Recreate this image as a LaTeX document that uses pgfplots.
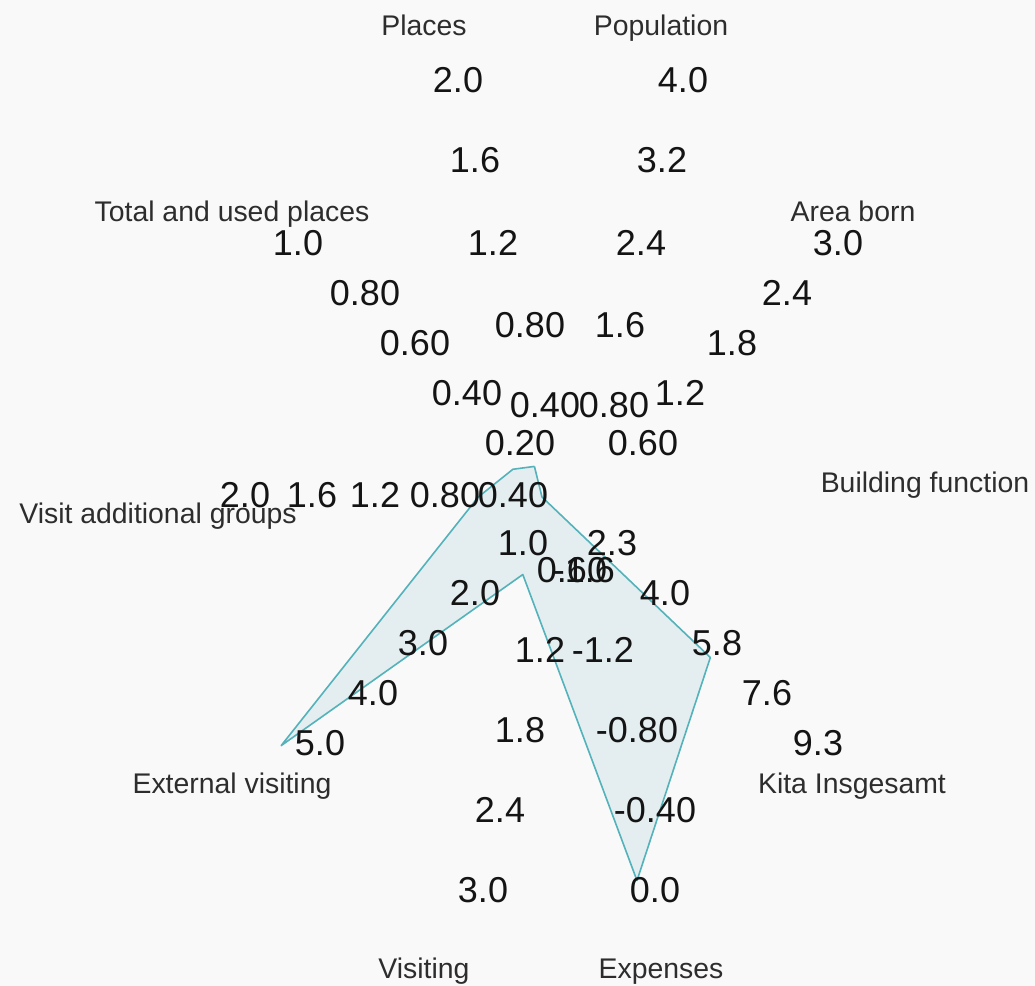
\documentclass[border=0pt]{standalone}
\usepackage{fontspec}
\setmainfont{Liberation Sans}
\usepackage{pgfplots}
\usepackage{pgfplotstable}
\pgfplotsset{compat=1.18}
\definecolor{bgc}{RGB}{249,249,249}
\definecolor{edgec}{RGB}{84,178,186}
\definecolor{areac}{RGB}{225,236,238}
\definecolor{tickc}{RGB}{20,20,20}
\definecolor{labc}{RGB}{45,45,45}
% angle (deg, clockwise from top), value, axis min, axis max
\pgfplotstableread{
a v lo hi
342 0.15 0 2.0
18 0.0 0 4.0
54 0.0 0 3.0
90 0.0 0 1.0
126 6.12 0.52 9.32
162 -0.12 -2.0 0.0
198 0.57 0 3.0
234 4.93 0 5.0
270 0.39 0 2.0
306 0.11 0 1.0
342 0.15 0 2.0
}\radar
\tikzset{tk/.style={font=\fontsize{18}{18}\selectfont, text=tickc, inner sep=0pt, text height=0.716em, text depth=0pt, anchor=center, yshift=-2.5pt},
 lb/.style={font=\fontsize{14.2}{14.2}\selectfont, text=labc, inner sep=0pt, text height=0.716em, text depth=0pt, anchor=center, yshift=-1.5pt}}
\newcommand{\tl}[3]{\node[tk] at (axis cs:#1,#2) {#3};}
\newcommand{\al}[3]{\node[lb] at (axis cs:#1,#2) {#3};}
\begin{document}
\begin{tikzpicture}
\begin{axis}[name=ax, x=0.5pt, y=0.5pt, y dir=reverse,
  xmin=0, xmax=1035, ymin=0, ymax=986, hide axis, clip=false]
\fill[bgc] (axis cs:0,0) rectangle (axis cs:1035,986);
\addplot[draw=edgec, line width=0.8pt, fill=areac, fill opacity=0.85, line join=round]
  table[x expr={542+(\thisrow{v}-\thisrow{lo})/(\thisrow{hi}-\thisrow{lo})*327*sin(\thisrow{a})},
        y expr={497-(\thisrow{v}-\thisrow{lo})/(\thisrow{hi}-\thisrow{lo})*429*cos(\thisrow{a})}] {\radar};
% Places
\tl{458}{80}{2.0}\tl{475}{160}{1.6}\tl{493}{243}{1.2}\tl{530}{325}{0.80}\tl{545}{405}{0.40}
% Population
\tl{683}{80}{4.0}\tl{662}{160}{3.2}\tl{641}{243}{2.4}\tl{620}{325}{1.6}\tl{614}{405}{0.80}
% Area born
\tl{838}{243}{3.0}\tl{787}{293}{2.4}\tl{732}{343}{1.8}\tl{680}{393}{1.2}\tl{643}{443}{0.60}
% Total and used places
\tl{298}{243}{1.0}\tl{365}{293}{0.80}\tl{415}{343}{0.60}\tl{467}{393}{0.40}\tl{520}{443}{0.20}
% Visit additional groups
\tl{245}{495}{2.0}\tl{312}{495}{1.6}\tl{375}{495}{1.2}\tl{445}{495}{0.80}\tl{513}{495}{0.40}
% Kita Insgesamt
\tl{612}{543}{2.3}\tl{665}{593}{4.0}\tl{717}{643}{5.8}\tl{767}{693}{7.6}\tl{818}{743}{9.3}
% External visiting
\tl{523}{543}{1.0}\tl{475}{593}{2.0}\tl{423}{643}{3.0}\tl{373}{693}{4.0}\tl{320}{743}{5.0}
% Visiting
\tl{572}{570}{0.60}\tl{540}{650}{1.2}\tl{520}{730}{1.8}\tl{500}{810}{2.4}\tl{483}{890}{3.0}
% Expenses
\tl{584}{570}{-1.6}\tl{603}{650}{-1.2}\tl{637}{730}{-0.80}\tl{655}{810}{-0.40}\tl{655}{890}{0.0}
% axis names
\al{424}{25}{Places}
\al{661}{25}{Population}
\al{853}{211}{Area born}
\al{925}{482}{Building function}
\al{852}{783}{Kita Insgesamt}
\al{661}{968}{Expenses}
\al{424}{968}{Visiting}
\al{232}{783}{External visiting}
\al{158}{513}{Visit additional groups}
\al{232}{211}{Total and used places}
\end{axis}
\pgfresetboundingbox
\path (ax.south west) rectangle (ax.north east);
\end{tikzpicture}
\end{document}
